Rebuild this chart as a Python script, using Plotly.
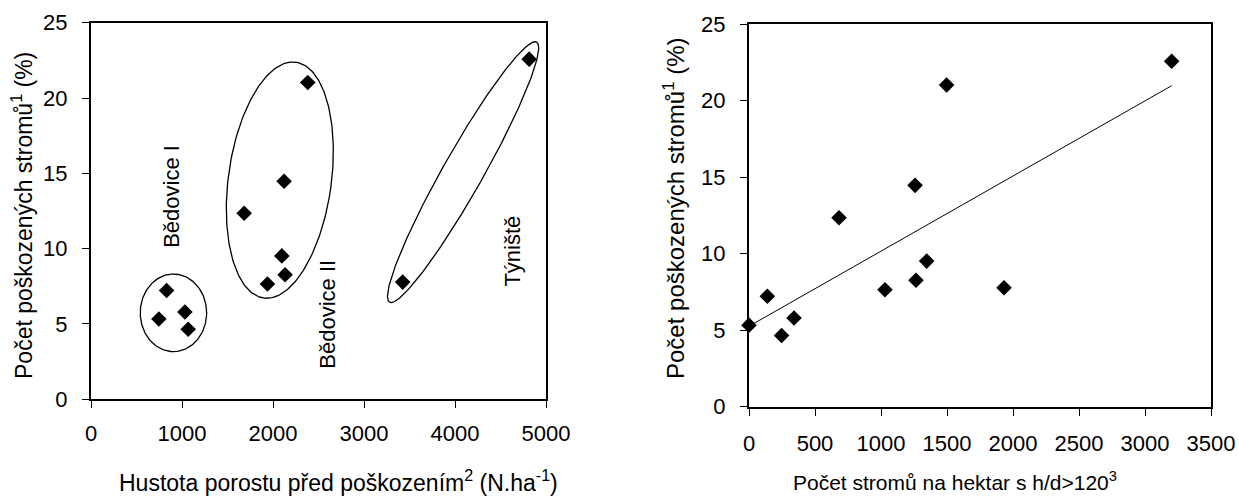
import numpy as np
import plotly.graph_objects as go

W, H = 1239, 497
FONT = "Arial, Liberation Sans, sans-serif"

# ---------------- data ----------------
# left chart: stand density before damage (N/ha)
density = [746, 831, 1032, 1068, 1683, 2122, 2097, 2133, 1939, 2382, 4815, 3425]
# right chart: number of trees per hectare with h/d > 120
slender = [0, 139, 341, 247, 682, 1258, 1346, 1265, 1030, 1497, 3202, 1932]
# damaged trees (%) - same plots in both charts
damaged = [5.33, 7.22, 5.80, 4.65, 12.35, 14.47, 9.52, 8.27, 7.65, 21.03, 22.58, 7.78]

left_xticks = [0, 1000, 2000, 3000, 4000, 5000]
right_xticks = [0, 500, 1000, 1500, 2000, 2500, 3000, 3500]
yticks = [0, 5, 10, 15, 20, 25]

group_names = ["Bědovice I", "Bědovice II", "Týniště"]
group_label_x = [889, 2590, 4627]
group_label_y = [13.5, 5.66, 9.81]
# ellipse centres (data units), semi axes (px), tilt (deg, clockwise from vertical)
ell_cx = [906, 2075, 4089]
ell_cy = [5.74, 14.55, 15.08]
ell_a = [38.8, 119.0, 149.4]
ell_b = [33.2, 51.5, 20.0]
ell_tilt = [0.0, 7.75, 29.5]

# ---------------- layout geometry ----------------
xdom1 = [91 / W, 546 / W]
ydom1 = [1 - 399.3 / H, 1 - 22.7 / H]
xdom2 = [749 / W, 1211 / W]
ydom2 = [1 - 406.7 / H, 1 - 24.3 / H]
xr1, yr1 = [0, 5000], [0, 25]
xr2, yr2 = [0, 3500], [0, 25]

sx1 = (xdom1[1] - xdom1[0]) * W / (xr1[1] - xr1[0])
sy1 = (ydom1[1] - ydom1[0]) * H / (yr1[1] - yr1[0])


def ellipse(cx, cy, a_px, b_px, tilt_deg, sx, sy, n=240):
    t = np.linspace(0, 2 * np.pi, n)
    th = np.radians(tilt_deg)
    u = b_px * np.cos(t)
    v = a_px * np.sin(t)
    xr = u * np.cos(th) + v * np.sin(th)
    yr = -u * np.sin(th) + v * np.cos(th)
    return cx + xr / sx, cy + yr / sy


fig = go.Figure()

marker = dict(symbol="diamond", size=12, color="black", line=dict(width=0))

fig.add_trace(go.Scatter(x=density, y=damaged, mode="markers", marker=marker,
                         xaxis="x", yaxis="y", cliponaxis=False, showlegend=False))

for i in range(len(group_names)):
    ex, ey = ellipse(ell_cx[i], ell_cy[i], ell_a[i], ell_b[i], ell_tilt[i], sx1, sy1)
    fig.add_trace(go.Scatter(x=ex, y=ey, mode="lines", line=dict(color="black", width=1.3),
                             xaxis="x", yaxis="y", showlegend=False, hoverinfo="skip"))

# right chart
coef = np.polyfit(slender, damaged, 1)
tx = np.array([0, max(slender)])
ty = np.polyval(coef, tx)
fig.add_trace(go.Scatter(x=tx, y=ty, mode="lines", line=dict(color="black", width=1),
                         xaxis="x2", yaxis="y2", showlegend=False))
fig.add_trace(go.Scatter(x=slender, y=damaged, mode="markers", marker=marker,
                         xaxis="x2", yaxis="y2", cliponaxis=False, showlegend=False))

axis_common = dict(showgrid=False, zeroline=False, showline=True, linecolor="black",
                   linewidth=2, mirror=True, ticks="outside", ticklen=7, tickwidth=1,
                   tickcolor="black", tickfont=dict(family=FONT, size=22, color="black"),
                   automargin=False, fixedrange=True)

fig.update_layout(
    width=W, height=H, margin=dict(l=0, r=0, t=0, b=0),
    paper_bgcolor="white", plot_bgcolor="white", template="none",
    xaxis=dict(domain=xdom1, range=xr1, tickvals=left_xticks, anchor="y",
               ticklabelstandoff=6, **axis_common),
    yaxis=dict(domain=ydom1, range=yr1, tickvals=yticks, anchor="x",
               ticklabelstandoff=10, **axis_common),
    xaxis2=dict(domain=xdom2, range=xr2, tickvals=right_xticks, anchor="y2",
                ticklabelstandoff=9, **axis_common),
    yaxis2=dict(domain=ydom2, range=yr2, tickvals=yticks, anchor="x2",
                ticklabelstandoff=10, **axis_common),
)

ann = []
for i in range(len(group_names)):
    ann.append(dict(x=group_label_x[i], y=group_label_y[i], xref="x", yref="y",
                    text=group_names[i], textangle=-90, showarrow=False,
                    font=dict(family=FONT, size=22, color="black")))

ann += [
    dict(x=338.5 / W, y=1 - 481 / H, xref="paper", yref="paper", showarrow=False,
         text="Hustota porostu před poškozením<sup>2</sup> (N.ha<sup>-1</sup>)",
         font=dict(family=FONT, size=23, color="black"),
         xanchor="center", yanchor="middle"),
    dict(x=955 / W, y=1 - 481 / H, xref="paper", yref="paper", showarrow=False,
         text="Počet stromů na hektar s h/d>120<sup>3</sup>",
         font=dict(family=FONT, size=21, color="black"),
         xanchor="center", yanchor="middle"),
    dict(x=22 / W, y=1 - 216 / H, xref="paper", yref="paper", showarrow=False,
         text="Počet poškozených stromů<sup>1</sup> (%)",
         font=dict(family=FONT, size=23, color="black"), textangle=-90,
         xanchor="center", yanchor="middle"),
    dict(x=674 / W, y=1 - 209 / H, xref="paper", yref="paper", showarrow=False,
         text="Počet poškozených stromů<sup>1</sup> (%)",
         font=dict(family=FONT, size=24, color="black"), textangle=-90,
         xanchor="center", yanchor="middle"),
]
fig.update_layout(annotations=ann)

fig.write_html("out.html")
